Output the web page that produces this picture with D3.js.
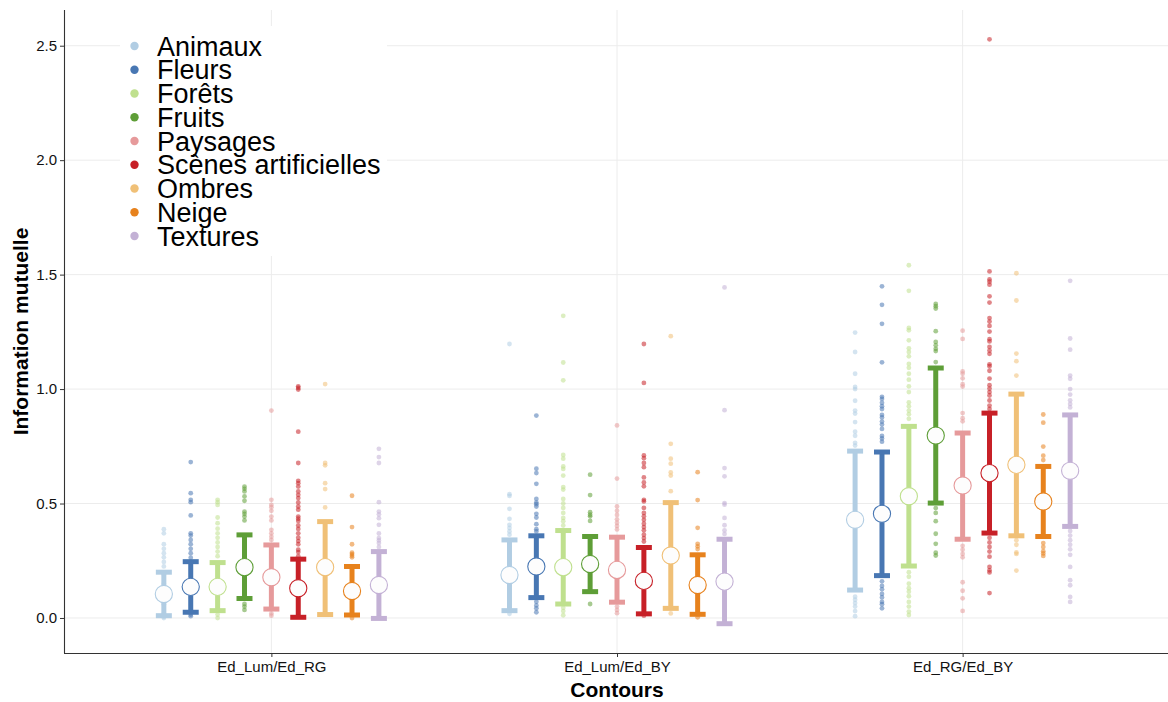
<!DOCTYPE html>
<html>
<head>
<meta charset="utf-8">
<script src="https://cdn.jsdelivr.net/npm/d3@7/dist/d3.min.js"></script>
<style>
  html, body { margin: 0; padding: 0; background: #fff; }
  svg { display: block; font-family: "Liberation Sans", Arial, Helvetica, sans-serif; }
</style>
</head>
<body>
<svg id="chart" width="1168" height="702"></svg>
<script>
// ---------------- DATA ----------------
const contours = ["Ed_Lum/Ed_RG", "Ed_Lum/Ed_BY", "Ed_RG/Ed_BY"];
const series = ["Animaux", "Fleurs", "Forêts", "Fruits", "Paysages", "Scènes artificielles", "Ombres", "Neige", "Textures"];
const colors = ["#b1cde3", "#4877b3", "#bfe08e", "#5e9e37", "#e69a9b", "#c72027", "#f0c077", "#e7821d", "#c3b1d5"];
const yTicks = [0, 0.5, 1.0, 1.5, 2.0, 2.5];

// mean per contour (rows) x series (cols)
const means = [
  [0.105, 0.136, 0.136, 0.222, 0.178, 0.130, 0.222, 0.118, 0.144],
  [0.188, 0.225, 0.222, 0.236, 0.210, 0.162, 0.273, 0.144, 0.159],
  [0.429, 0.455, 0.532, 0.797, 0.579, 0.633, 0.669, 0.509, 0.643]
];
const lows = [
  [0.010, 0.025, 0.032, 0.085, 0.039, 0.003, 0.015, 0.013, -0.002],
  [0.032, 0.089, 0.061, 0.115, 0.069, 0.018, 0.042, 0.016, -0.025],
  [0.122, 0.185, 0.227, 0.502, 0.344, 0.371, 0.359, 0.356, 0.400]
];
const highs = [
  [0.200, 0.246, 0.242, 0.363, 0.319, 0.257, 0.421, 0.225, 0.290],
  [0.341, 0.359, 0.382, 0.356, 0.353, 0.308, 0.504, 0.276, 0.344],
  [0.729, 0.725, 0.837, 1.092, 0.808, 0.895, 0.978, 0.662, 0.887]
];

// individual observations (visible points)
const dotsLumRG = [
  [0.388, 0.370, 0.322, 0.302, 0.283, 0.265, 0.245, 0.225, 0.19, 0.15, 0.06, 0.02, 0.005, 0.0],
  [0.681, 0.545, 0.516, 0.506, 0.448, 0.370, 0.360, 0.341, 0.322, 0.302, 0.283, 0.263, 0.015, 0.008],
  [0.516, 0.506, 0.494, 0.439, 0.414, 0.390, 0.370, 0.350, 0.330, 0.310, 0.290, 0.270, 0.015, 0.0],
  [0.574, 0.564, 0.553, 0.531, 0.512, 0.465, 0.455, 0.443, 0.426, 0.061, 0.050, 0.035],
  [0.906, 0.516, 0.494, 0.484, 0.468, 0.443, 0.426, 0.385, 0.370, 0.355, 0.341, 0.020, 0.010],
  [1.012, 1.005, 0.998, 0.814, 0.677, 0.599, 0.589, 0.574, 0.553, 0.538, 0.524, 0.505, 0.487, 0.473, 0.443, 0.434, 0.424, 0.404, 0.389, 0.370, 0.351, 0.336, 0.322, 0.298, 0.288, 0.270],
  [1.022, 0.677, 0.667, 0.589, 0.563, 0.483],
  [0.534, 0.397, 0.322, 0.285, 0.279, 0.272, 0.265, 0.0],
  [0.739, 0.703, 0.677, 0.506, 0.465, 0.453, 0.436, 0.407, 0.369, 0.349, 0.339, 0.327, 0.310]
];
const dotsLumBY = [
  [1.197, 0.541, 0.533, 0.477, 0.433, 0.407, 0.393, 0.378, 0.364, 0.018],
  [0.884, 0.652, 0.633, 0.586, 0.520, 0.504, 0.497, 0.487, 0.455, 0.439, 0.410, 0.388, 0.378, 0.071, 0.055, 0.042, 0.025],
  [1.320, 1.116, 1.038, 0.712, 0.696, 0.662, 0.651, 0.622, 0.572, 0.561, 0.520, 0.500, 0.481, 0.459, 0.437, 0.423, 0.404, 0.045, 0.030, 0.012],
  [0.626, 0.537, 0.462, 0.451, 0.444, 0.424, 0.061],
  [0.841, 0.609, 0.487, 0.468, 0.450, 0.431, 0.416, 0.402, 0.387, 0.050, 0.035, 0.021],
  [1.197, 1.027, 0.710, 0.698, 0.677, 0.659, 0.614, 0.592, 0.575, 0.516, 0.509, 0.481, 0.459, 0.444, 0.429, 0.412, 0.397, 0.383, 0.364, 0.349, 0.334, 0.010],
  [1.231, 0.761, 0.696, 0.674, 0.636, 0.622, 0.554, 0.020],
  [0.637, 0.515, 0.394, 0.324, 0.313, 0.301, 0.003],
  [1.444, 0.908, 0.655, 0.619, 0.502, 0.495, 0.437, 0.405, 0.383, 0.367]
];
const dotsRGBY = [
  [1.247, 1.162, 1.067, 1.009, 1.000, 0.949, 0.906, 0.893, 0.856, 0.814, 0.796, 0.765, 0.753, 0.093, 0.080, 0.065, 0.050, 0.030, 0.008],
  [1.449, 1.368, 1.285, 1.117, 0.966, 0.957, 0.940, 0.925, 0.913, 0.887, 0.876, 0.858, 0.845, 0.826, 0.795, 0.784, 0.770, 0.160, 0.140, 0.125, 0.105, 0.090, 0.070, 0.060, 0.042],
  [1.541, 1.429, 1.267, 1.257, 1.213, 1.178, 1.162, 1.143, 1.110, 1.093, 1.067, 1.041, 1.012, 0.987, 0.942, 0.925, 0.906, 0.890, 0.870, 0.200, 0.180, 0.150, 0.130, 0.115, 0.095, 0.070, 0.050, 0.028, 0.013],
  [1.372, 1.362, 1.352, 1.253, 1.206, 1.191, 1.176, 1.166, 1.118, 0.480, 0.459, 0.423, 0.368, 0.324, 0.285, 0.273],
  [1.255, 1.219, 1.077, 1.067, 1.047, 1.021, 1.011, 0.895, 0.873, 0.859, 0.315, 0.298, 0.280, 0.265, 0.156, 0.119, 0.086, 0.031],
  [2.528, 1.514, 1.479, 1.469, 1.456, 1.405, 1.378, 1.310, 1.295, 1.276, 1.251, 1.218, 1.208, 1.184, 1.168, 1.154, 1.108, 1.100, 1.080, 1.046, 1.017, 1.002, 0.987, 0.972, 0.950, 0.928, 0.913, 0.350, 0.330, 0.310, 0.290, 0.268, 0.223, 0.208, 0.199, 0.109],
  [1.506, 1.387, 1.155, 1.122, 1.059, 0.340, 0.320, 0.286, 0.280, 0.207],
  [0.889, 0.853, 0.749, 0.709, 0.690, 0.327, 0.310, 0.292, 0.282, 0.271],
  [1.473, 1.221, 1.172, 1.059, 1.045, 1.000, 0.976, 0.951, 0.935, 0.920, 0.380, 0.360, 0.340, 0.320, 0.300, 0.276, 0.223, 0.165, 0.143, 0.092, 0.070]
];
const dots = [dotsLumRG, dotsLumBY, dotsRGBY];

const xTitle = "Contours";
const yTitle = "Information mutuelle";

// ---------------- LAYOUT ----------------
const svg = d3.select("#chart");
const panel = { left: 64, right: 1170, top: 10, bottom: 653 };

const x = d3.scalePoint().domain(contours).range([panel.left, panel.right]).padding(0.6);
const dodge = d3.scaleBand().domain(series)
  .range([-0.35 * x.step(), 0.35 * x.step()]);
const y = d3.scaleLinear().domain([-0.153, 2.656]).range([panel.bottom, panel.top]);

const colorOf = d3.scaleOrdinal().domain(series).range(colors);
const xPos = (ci, si) => x(contours[ci]) + dodge(series[si]) + dodge.bandwidth() / 2;

// Gridlines
const grid = svg.append("g");
grid.selectAll("line.h").data(yTicks).join("line")
  .attr("x1", panel.left).attr("x2", panel.right)
  .attr("y1", d => y(d)).attr("y2", d => y(d))
  .attr("stroke", "#ececec").attr("stroke-width", 1);
grid.selectAll("line.v").data(contours).join("line")
  .attr("x1", d => x(d)).attr("x2", d => x(d))
  .attr("y1", panel.top).attr("y2", panel.bottom)
  .attr("stroke", "#ececec").attr("stroke-width", 1);

// Build records
const records = [];
contours.forEach((c, ci) => series.forEach((s, si) => {
  records.push({ ci, si, mean: means[ci][si], lo: lows[ci][si], hi: highs[ci][si], pts: dots[ci][si] });
}));

// Points
const ptsG = svg.append("g");
records.forEach(r => {
  ptsG.selectAll(null).data(r.pts).join("circle")
    .attr("cx", xPos(r.ci, r.si))
    .attr("cy", d => y(d))
    .attr("r", 2.4)
    .attr("fill", colorOf(series[r.si]))
    .attr("fill-opacity", 0.55);
});

// Error bars
const capW = 16, barW = 5;
const eb = svg.append("g");
records.forEach(r => {
  const cx = xPos(r.ci, r.si), col = colorOf(series[r.si]);
  const g = eb.append("g").attr("stroke", col).attr("stroke-width", barW).attr("fill", "none");
  g.append("line").attr("x1", cx).attr("x2", cx).attr("y1", y(r.lo)).attr("y2", y(r.hi));
  g.append("line").attr("x1", cx - capW / 2).attr("x2", cx + capW / 2).attr("y1", y(r.lo)).attr("y2", y(r.lo));
  g.append("line").attr("x1", cx - capW / 2).attr("x2", cx + capW / 2).attr("y1", y(r.hi)).attr("y2", y(r.hi));
});

// Means
svg.append("g").selectAll("circle").data(records).join("circle")
  .attr("cx", d => xPos(d.ci, d.si))
  .attr("cy", d => y(d.mean))
  .attr("r", 8.6)
  .attr("fill", "#fdfdfd")
  .attr("stroke", d => colorOf(series[d.si]))
  .attr("stroke-width", 1.1);

// Axes
const yAxis = svg.append("g").attr("transform", `translate(${panel.left},0)`)
  .call(d3.axisLeft(y).tickValues(yTicks).tickFormat(d3.format(".1f")).tickSize(4).tickSizeOuter(0).tickPadding(3));
const xAxis = svg.append("g").attr("transform", `translate(0,${panel.bottom})`)
  .call(d3.axisBottom(x).tickSize(4).tickSizeOuter(0).tickPadding(4));
[yAxis, xAxis].forEach(a => {
  a.select(".domain").attr("stroke", "#333").attr("stroke-width", 1.1);
  a.selectAll(".tick line").attr("stroke", "#333");
  a.selectAll(".tick text").attr("fill", "#111").style("font-size", "15px")
    .style("font-family", '"Liberation Sans", Arial, sans-serif');
});
yAxis.select(".domain").attr("d", `M0.5,${panel.top}V${panel.bottom}`);
xAxis.select(".domain").attr("d", `M${panel.left},0.5H${panel.right}`);

// Titles
svg.append("text").attr("x", (panel.left + panel.right) / 2).attr("y", 697)
  .attr("text-anchor", "middle").style("font-size", "21px").style("font-weight", "bold")
  .text(xTitle);
svg.append("text").attr("transform", `translate(28,${(panel.top + panel.bottom) / 2}) rotate(-90)`)
  .attr("text-anchor", "middle").style("font-size", "21px").style("font-weight", "bold")
  .text(yTitle);

// Legend
const leg = svg.append("g");
leg.append("rect").attr("x", 120).attr("y", 26).attr("width", 267).attr("height", 230).attr("fill", "#fff");
const rowH = 23.75;
series.forEach((s, i) => {
  const cy = 46 + i * rowH;
  leg.append("circle").attr("cx", 134.5).attr("cy", cy).attr("r", 4.2).attr("fill", colorOf(s));
  leg.append("text").attr("x", 157).attr("y", cy + 9.5).style("font-size", "27px").attr("fill", "#000").text(s);
});
</script>
</body>
</html>
